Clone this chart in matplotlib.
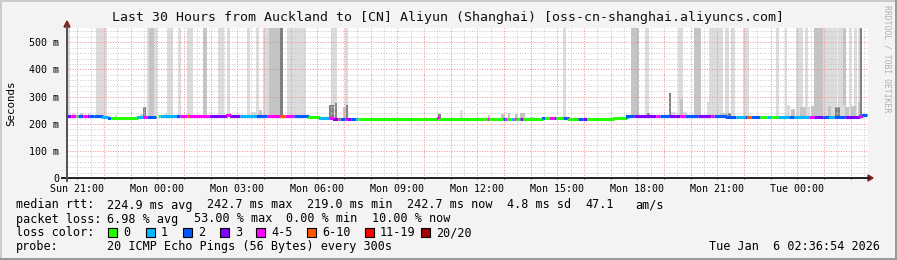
import matplotlib
matplotlib.use("Agg")
import matplotlib.pyplot as plt
from matplotlib.lines import Line2D
from matplotlib.patches import Rectangle, Polygon

plt.rcParams['font.family'] = 'DejaVu Sans Mono'

W, H = 897, 260

# 30 hour window ending Tue 02:36:54, in hours after Sun 00:00
t_end = 48 + 2 + 36.9 / 60
t_start = t_end - 30
step = 5 / 60.0   # one smokeping step
n_steps = 360

tick_hours = [21, 24, 27, 30, 33, 36, 39, 42, 45, 48]
tick_labels = ["Sun 21:00", "Mon 00:00", "Mon 03:00", "Mon 06:00", "Mon 09:00",
               "Mon 12:00", "Mon 15:00", "Mon 18:00", "Mon 21:00", "Tue 00:00"]

# median rtt (ms) + loss bucket, piecewise from step index
med_step = [0, 2, 4, 5, 7, 9, 10, 12, 16, 19, 20, 32, 34, 36, 40, 41, 42, 49, 51, 54,
            55, 64, 72, 74, 78, 85, 90, 96, 98, 102, 109, 114, 118, 120, 122, 123, 125, 126, 128, 130,
            131, 167, 168, 189, 190, 196, 197, 198, 200, 201, 202, 204, 205, 214, 215, 217, 219, 220, 223, 225,
            226, 230, 232, 234, 246, 252, 255, 265, 267, 271, 276, 278, 284, 290, 291, 297, 301, 305, 306, 308,
            312, 315, 317, 320, 325, 327, 334, 336, 340, 343, 345, 350, 357, 358]
med_rtt = [229, 229, 229, 229, 230, 229, 228, 227, 223, 222, 222, 223, 226, 225, None, 228, 228, 228, 228, 228,
           228, 228, 231, 228, 227, 227, 228, 228, 228, 228, 223, 222, 220, 219, 219, 219, 219, 219, 219, 219,
           218, 220, 218, 218, 218, 219, 219, 218, 219, 219, 218, 219, 217, 220, 220, 220, 220, 220, 220, 220,
           219, 219, 219, 218, 221, 228, 228, 228, 228, 228, 228, 228, 228, 228, 228, 223, 223, 223, 223, 223,
           223, 223, 223, 226, 226, 226, 226, 226, 226, 226, 226, 226, 227, 232]
med_loss = [3, 4, 0, 2, 4, 3, 2, 2, 1, 2, 0, 1, 4, 2, 0, 0, 1, 2, 4, 5,
            4, 3, 4, 3, 1, 2, 4, 5, 4, 2, 0, 1, 4, 3, 5, 2, 4, 3, 2, 1,
            0, 4, 0, 4, 0, 2, 4, 0, 1, 4, 0, 3, 0, 2, 0, 4, 3, 0, 2, 3,
            0, 2, 3, 0, 0, 2, 3, 4, 2, 3, 4, 2, 3, 4, 2, 2, 1, 2, 5, 2,
            0, 1, 0, 1, 2, 1, 4, 3, 2, 1, 2, 3, 4, 2]

loss_labels = ["0", "1", "2", "3", "4-5", "6-10", "11-19", "20/20"]
loss_colors = ["#26ff00", "#00b8ff", "#0059ff", "#7e00ff",
               "#ff00ff", "#ff5500", "#ff0000", "#a10000"]

# smoke reaching off the scale (steps, shade 0 light / 1 mid / 2 dark)
band_start = [0, 13, 36, 37, 45, 50, 54, 61, 68, 72, 81, 85, 88, 91, 96, 99, 119, 125,
              223, 254, 260, 275, 282, 289, 296, 299, 304, 319, 323, 328, 332, 336, 340,
              347, 349, 352, 354, 356, 357]
band_end = [1.5, 18, 40.5, 39, 47.5, 51.5, 56.5, 63, 70.5, 73.5, 82.5, 86.5, 97, 96, 97.2, 107.5, 121.5, 126.5,
            224.7, 257.5, 262, 277, 285.3, 295, 298, 300.6, 307, 320.4, 324, 331, 333.5, 340, 346.5,
            349, 350.5, 353, 355.5, 357.3, 357.8]
band_shade = [0, 0, 0, 1, 0, 0, 0, 1, 0, 0, 0, 0, 0, 1, 2, 0, 0, 0,
              0, 1, 0, 0, 1, 0, 0, 0, 0, 0, 0, 0, 0, 1, 0,
              0, 1, 0, 0, 0, 2]

# short smoke above the median (steps, top ms, shade)
smoke_start = [2.2, 5.9, 9.5, 21.6, 32.9, 34.2, 44, 53.6, 73, 83, 86.4, 118, 120, 120.6, 124, 125.5,
               167, 176.9, 189.5, 195.3, 198.5, 201.6, 203.9, 208, 254, 261, 271, 272, 276, 277,
               284, 288, 293.9, 297.5, 324, 325.8, 328.5, 329.9, 335, 342.5, 345.6, 348, 350, 353, 356]
smoke_end = [3.6, 7.2, 10.4, 22.5, 34.2, 35.6, 47.3, 56.3, 74, 86.4, 87.8, 120, 121.5, 121.5, 125.5, 126.5,
             168.3, 178.2, 190.4, 197, 199.4, 203, 206, 210.6, 257, 262.4, 272, 274, 277, 279,
             285.3, 289.4, 297.5, 299, 325.4, 327.6, 334.4, 332.6, 339.8, 344, 348, 350, 352, 355, 357.8]
smoke_top = [240, 240, 238, 232, 235, 262, 238, 240, 238, 242, 250, 268, 235, 277, 261, 268,
             235, 250, 232, 234, 238, 236, 238, 224, 240, 240, 314, 244, 290, 244,
             240, 281, 240, 240, 268, 253, 262, 262, 265, 265, 263, 268, 260, 265, 280]
smoke_shade = [0, 1, 0, 0, 0, 2, 0, 0, 1, 0, 1, 2, 0, 2, 1, 2,
               2, 0, 1, 1, 1, 1, 1, 0, 1, 2, 2, 0, 1, 0,
               1, 0, 1, 2, 0, 1, 0, 1, 1, 1, 2, 0, 1, 1, 1]
shades = ["#dcdcdc", "#c4c4c4", "#808080"]

stats_rtt = [("median rtt:", 16), ("224.9 ms avg", 107), ("242.7 ms max", 207),
             ("219.0 ms min", 307), ("242.7 ms now", 407), ("4.8 ms sd", 507),
             ("47.1", 585), ("am/s", 635)]
stats_loss = [("packet loss:", 16), ("6.98 % avg", 107), ("53.00 % max", 194),
              ("0.00 % min", 286), ("10.00 % now", 372)]
box_x = [108, 146, 183, 220, 256, 307, 365, 421]
probe_text = "20 ICMP Echo Pings (56 Bytes) every 300s"
stamp_text = "Tue Jan  6 02:36:54 2026"
title = "Last 30 Hours from Auckland to [CN] Aliyun (Shanghai) [oss-cn-shanghai.aliyuncs.com]"


def fx(px):
    return px / W


def fy(py):
    return 1 - py / H


def tx(s):
    return t_start + s * step


def median_at(s):
    val = med_rtt[0]
    for st, r in zip(med_step, med_rtt):
        if st <= s and r is not None:
            val = r
        elif st > s:
            break
    return val


fig = plt.figure(figsize=(W / 100, H / 100), dpi=100, facecolor="#f3f3f3")
ax = fig.add_axes([fx(67), fy(178), 801 / W, 150 / H])
ax.set_facecolor("white")
ax.set_xlim(t_start, t_start + 30 * 801 / 800)
ax.set_ylim(0, 150 / 0.2714)
for sp in ax.spines.values():
    sp.set_visible(False)

# smoke (dark strokes sit above the grid)
for s0, s1, sh in zip(band_start, band_end, band_shade):
    lo = median_at(s0) - 4
    ax.bar(tx(s0), 600 - lo, width=(s1 - s0) * step, bottom=lo, align="edge",
           color=shades[sh], lw=0, zorder=2.2 if sh == 2 else 1 + sh * 0.1)
for s0, s1, top, sh in zip(smoke_start, smoke_end, smoke_top, smoke_shade):
    lo = median_at(s0) - 4
    ax.bar(tx(s0), top - lo, width=(s1 - s0) * step, bottom=lo, align="edge",
           color=shades[sh], lw=0, zorder=1.5 + sh * 0.1)

# grid on top of the smoke
h = 21.0
while h < t_end:
    major = abs(h - round(h)) < 1e-6
    ax.axvline(h, color="#f08a8a" if major else "#c8c8c8", lw=0.7,
               ls=(0, (1, 1.6)), zorder=2)
    h += 0.5
for v in range(20, 560, 20):
    major = v % 100 == 0
    ax.axhline(v, color="#f08a8a" if major else "#c8c8c8", lw=0.7,
               ls=(0, (1, 1.6)), zorder=2)
for hh in range(21, 51):
    ax.plot([hh, hh], [0, -5], color="#e07070", lw=0.7, clip_on=False, zorder=2)

# median line coloured by loss
ends = med_step[1:] + [n_steps]
prev = None
for s0, s1, r, l in zip(med_step, ends, med_rtt, med_loss):
    if r is None:
        prev = None
        continue
    xs = [tx(s0), tx(s1)]
    ys = [r, r]
    if prev is not None and prev != r:
        xs = [tx(s0)] + xs
        ys = [prev] + ys
    ax.plot(xs, ys, color=loss_colors[l], lw=2.2, solid_capstyle="butt",
            solid_joinstyle="miter", zorder=4)
    prev = r

ax.set_xticks(tick_hours)
ax.set_xticklabels(tick_labels, fontsize=7.2)
ax.set_yticks([0, 100, 200, 300, 400, 500])
ax.set_yticklabels(["0", "100 m", "200 m", "300 m", "400 m", "500 m"], fontsize=7.2)
ax.tick_params(axis="x", length=0, pad=4.5)
ax.tick_params(axis="y", length=0, pad=5.5)
fig.text(fx(11), fy(103), "Seconds", rotation=90, ha="center", va="center", fontsize=7.8)

# axes with arrows
fig.add_artist(Line2D([fx(62), fx(869)], [fy(178), fy(178)], color="#202020", lw=1.4))
fig.add_artist(Line2D([fx(67), fx(67)], [fy(181), fy(26)], color="#505050", lw=1.4))
fig.add_artist(Polygon([[fx(868), fy(175)], [fx(868), fy(181)], [fx(873), fy(178)]],
                       closed=True, color="#7f1f1f"))
fig.add_artist(Polygon([[fx(64), fy(27)], [fx(70), fy(27)], [fx(67), fy(21)]],
                       closed=True, color="#7f1f1f"))

fig.text(fx(447.5), fy(18), title, ha="center", va="center", fontsize=9.55, color="#101010")
fig.text(fx(887), fy(59), "RRDTOOL / TOBI OETIKER", rotation=-90, ha="center",
         va="center", fontsize=5.9, color="#b0b0b0")

legend_fs = 8.5
for txt, x in stats_rtt:
    fig.text(fx(x), fy(205), txt, ha="left", va="center", fontsize=legend_fs)
for txt, x in stats_loss:
    fig.text(fx(x), fy(219), txt, ha="left", va="center", fontsize=legend_fs)
fig.text(fx(16), fy(232.5), "loss color:", ha="left", va="center", fontsize=legend_fs)
for bx, lab, col in zip(box_x, loss_labels, loss_colors):
    fig.add_artist(Rectangle((fx(bx), fy(237)), 9 / W, 9 / H, facecolor=col,
                             edgecolor="black", lw=0.8))
    fig.text(fx(bx + 15), fy(232.5), lab, ha="left", va="center", fontsize=legend_fs)
fig.text(fx(16), fy(246.5), "probe:", ha="left", va="center", fontsize=legend_fs)
fig.text(fx(107), fy(246.5), probe_text, ha="left", va="center", fontsize=legend_fs)
fig.text(fx(880), fy(246.5), stamp_text, ha="right", va="center", fontsize=legend_fs)

# 3d-ish frame
fig.add_artist(Rectangle((0, 1 - 2 / H), 1, 2 / H, color="#cbcbcb", lw=0))
fig.add_artist(Rectangle((0, 0), 2 / W, 1, color="#cbcbcb", lw=0))
fig.add_artist(Rectangle((0, 0), 1, 2 / H, color="#999999", lw=0))
fig.add_artist(Rectangle((1 - 2 / W, 0), 2 / W, 1, color="#999999", lw=0))

fig.savefig("out.png", dpi=100, facecolor=fig.get_facecolor())
